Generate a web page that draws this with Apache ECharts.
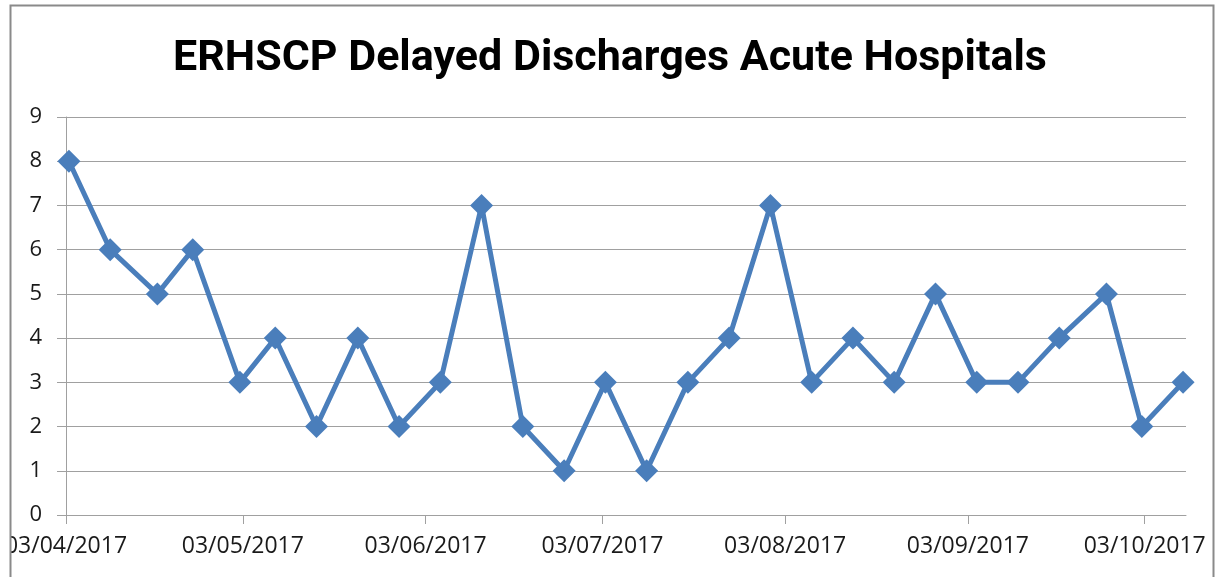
<!DOCTYPE html>
<html>
<head>
<meta charset="utf-8">
<script src="https://cdn.jsdelivr.net/npm/echarts@6/dist/echarts.min.js"></script>
<style>
  html, body { margin: 0; padding: 0; background: #fff; }
  #main { width: 1220px; height: 577px; }
</style>
</head>
<body>
<div id="main"></div>
<script>
// weekly census dates and delayed discharge counts
var dates = [
  "2017-04-03", "2017-04-10", "2017-04-18", "2017-04-24", "2017-05-02",
  "2017-05-08", "2017-05-15", "2017-05-22", "2017-05-29", "2017-06-05",
  "2017-06-12", "2017-06-19", "2017-06-26", "2017-07-03", "2017-07-10",
  "2017-07-17", "2017-07-24", "2017-07-31", "2017-08-07", "2017-08-14",
  "2017-08-21", "2017-08-28", "2017-09-04", "2017-09-11", "2017-09-18",
  "2017-09-26", "2017-10-02", "2017-10-09"
];
var delays = [8, 6, 5, 6, 3, 4, 2, 4, 2, 3, 7, 2, 1, 3, 1, 3, 4, 7, 3, 4, 3, 5, 3, 3, 4, 5, 2, 3];
// month ticks on the x axis
var tickDates = ["2017-04-03", "2017-05-03", "2017-06-03", "2017-07-03", "2017-08-03", "2017-09-03", "2017-10-03"];
var axisStart = "2017-04-03";
var axisEnd = "2017-10-10";

function toTime(s, hour) {
  var p = s.split("-");
  return new Date(+p[0], +p[1] - 1, +p[2], hour || 0).getTime();
}
function pad(n) { return n < 10 ? "0" + n : "" + n; }

var seriesData = dates.map(function (d, i) {
  // excel plots each day in the middle of its slot
  return [toTime(d, 12), delays[i]];
});
var ticks = tickDates.map(function (d) { return toTime(d); });

var myChart = echarts.init(document.getElementById("main"));
var gridColor = "#a0a0a0";
var option = {
  animation: false,
  backgroundColor: "#fff",
  title: {
    text: "ERHSCP Delayed Discharges Acute Hospitals",
    left: "center",
    top: 33,
    textStyle: {
      fontFamily: "Roboto",
      fontWeight: "bold",
      fontSize: 43,
      color: "#000"
    }
  },
  grid: {
    left: 66,
    right: 34,
    top: 117,
    bottom: 62,
    containLabel: false,
    outerBoundsMode: "none"
  },
  xAxis: {
    type: "value",
    min: toTime(axisStart),
    max: toTime(axisEnd),
    splitLine: { show: false },
    axisLine: { show: true, lineStyle: { color: gridColor, width: 1 } },
    axisTick: {
      show: true,
      length: 9,
      customValues: ticks,
      lineStyle: { color: gridColor }
    },
    axisLabel: {
      customValues: ticks,
      margin: 20,
      hideOverlap: false,
      fontFamily: "Open Sans",
      fontSize: 23,
      color: "#1a1a1a",
      formatter: function (v) {
        var d = new Date(v);
        return pad(d.getDate()) + "/" + pad(d.getMonth() + 1) + "/" + d.getFullYear();
      }
    }
  },
  yAxis: {
    type: "value",
    min: 0,
    max: 9,
    interval: 1,
    axisLine: { show: true, lineStyle: { color: gridColor, width: 1 } },
    axisTick: { show: true, length: 9, lineStyle: { color: gridColor } },
    splitLine: { show: true, lineStyle: { color: gridColor, width: 1 } },
    axisLabel: {
      margin: 24,
      fontFamily: "Open Sans",
      fontSize: 22,
      color: "#1a1a1a"
    }
  },
  series: [
    {
      name: "Delayed Discharges",
      type: "line",
      data: seriesData,
      symbol: "diamond",
      symbolSize: 23,
      lineStyle: { color: "#4a7ebb", width: 5 },
      itemStyle: { color: "#4a7ebb" }
    }
  ],
  graphic: [
    {
      type: "rect",
      z: 100,
      shape: { x: 0, y: 0, width: 10, height: 577 },
      style: { fill: "#fff" }
    },
    {
      type: "rect",
      z: 101,
      shape: { x: 10.5, y: 5.5, width: 1203, height: 600 },
      style: { fill: null, stroke: "#8a8a8a", lineWidth: 2 }
    }
  ]
};
myChart.setOption(option);
</script>
</body>
</html>
